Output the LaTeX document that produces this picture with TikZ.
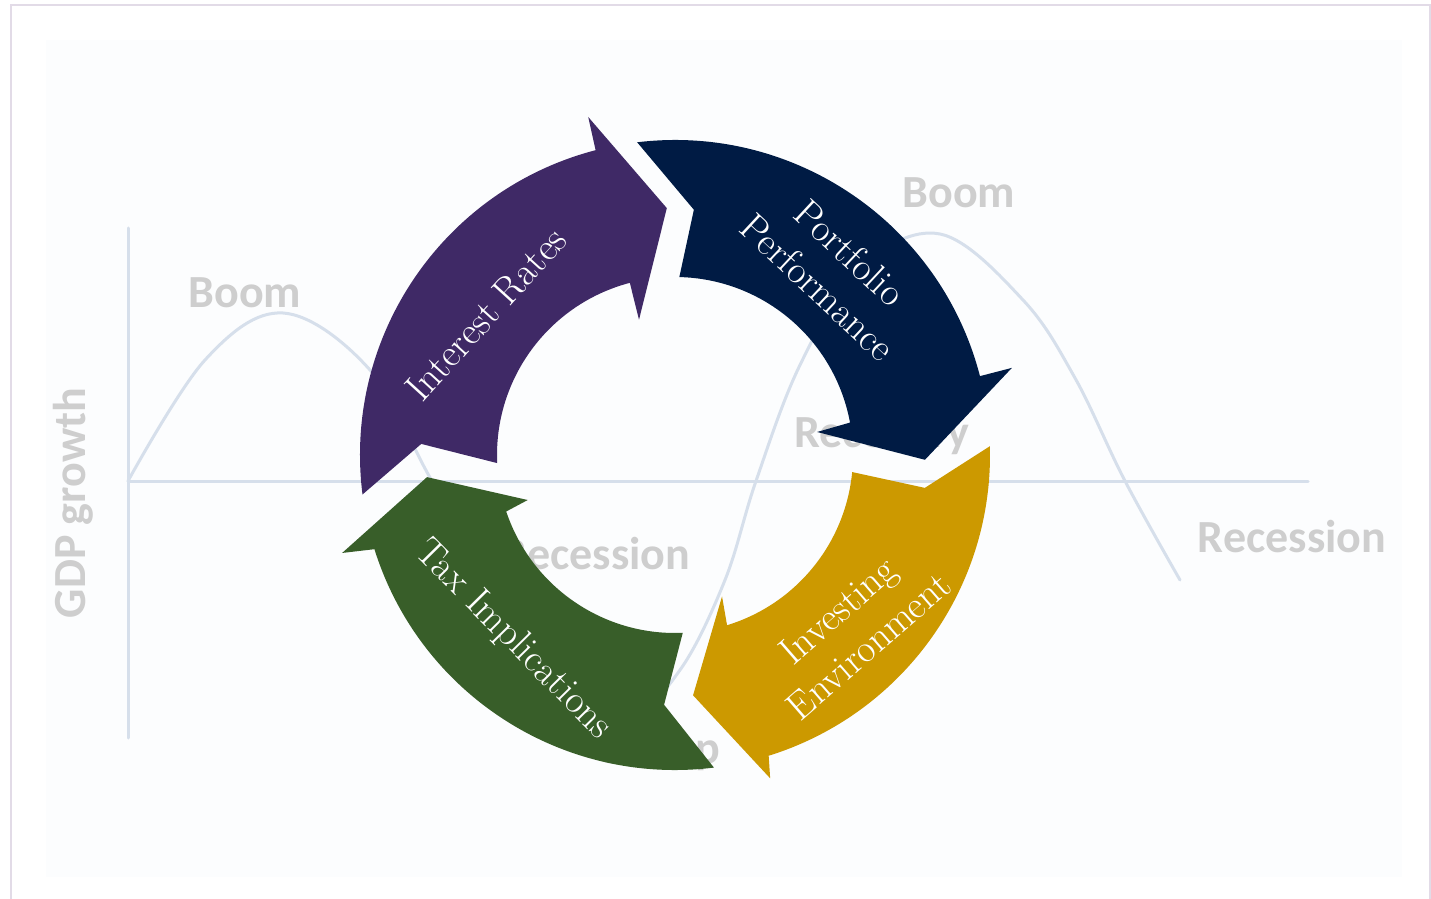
\documentclass[tikz,border=0pt]{standalone}
\usepackage{fontspec}
\newfontfamily\lblfont{Carlito}
\usetikzlibrary{calc}
\definecolor{purp}{RGB}{63,41,102}
\definecolor{navyc}{RGB}{0,27,68}
\definecolor{goldc}{RGB}{204,153,0}
\definecolor{greenc}{RGB}{56,94,41}
\definecolor{axisc}{RGB}{214,223,235}
\definecolor{lblc}{RGB}{206,206,206}
\definecolor{framec}{RGB}{226,219,231}
\definecolor{bgc}{RGB}{252,253,254}
\tikzset{
  chartline/.style={draw=axisc,line width=3pt,line cap=round},
  bglabel/.style={text=lblc,font=\lblfont\bfseries\fontsize{46}{50}\selectfont,anchor=base,inner sep=0pt},
  arrowtext/.style={text=white,font=\fontsize{39}{47}\selectfont,align=center,inner sep=0pt}
}
\begin{document}
\begin{tikzpicture}[x=1pt,y=1pt]
\useasboundingbox (0,0) rectangle (1431,898);
\fill[white] (0,0) rectangle (1431,898);
\fill[bgc] (46,21) rectangle (1402,858);
\draw[framec,line width=1.5pt] (11,-10) -- (11,893) -- (1430,893) -- (1430,-10);
% faded chart
\draw[chartline] (128,670) -- (128,160);
\draw[chartline] (128,417) -- (1308,417);
\draw[chartline] plot[smooth,tension=0.6] coordinates {(128,417) (205,538) (283,585) (370,528) (432,417) (500,308) (560,228) (630,186) (680,228) (725,318) (756,417) (800,533) (860,630) (940,664) (1023,598) (1075,520) (1125,417) (1180,318)};
\node[bglabel] (boomL) at (245,590) {Boom};
\node[bglabel] (boomR) at (959,690) {Boom};
\node[bglabel] (recM) at (596,329) {Recession};
\node[bglabel] (recR) at (1292,346) {Recession};
\node[bglabel] (recov) at (882,451) {Recovery};
\node[bglabel] (slump) at (660,135) {Slump};
\node[bglabel,rotate=90] (gdp) at (85,395) {GDP growth};
% cycle arrows
\coordinate (C) at (675,443);
\fill[purp] ($(C)+(187.2:315pt)$) arc[start angle=187.2,end angle=104.6,radius=315pt]
  -- ($(C)+(104.4:349pt)$) -- ($(C)+(91.9:247pt)$) -- ($(C)+(104.9:140pt)$)
  -- ($(C)+(104.7:178pt)$) arc[start angle=104.7,end angle=182.6,radius=178pt]
  -- ($(C)+(177.5:254pt)$) -- cycle;
\fill[navyc] ($(C)+(96.9:315pt)$) arc[start angle=96.9,end angle=14.5,radius=315pt]
  -- ($(C)+(14.5:348pt)$) -- ($(C)+(-1.1:250pt)$) -- ($(C)+(9.2:144pt)$)
  -- ($(C)+(10.5:178pt)$) arc[start angle=10.5,end angle=88.6,radius=178pt]
  -- ($(C)+(85.6:246pt)$) -- cycle;
\fill[goldc] ($(C)+(1.6:315pt)$) arc[start angle=1.6,end angle=-72.7,radius=315pt]
  -- ($(C)+(-73.6:337pt)$) -- ($(C)+(-85.7:241pt)$) -- ($(C)+(-71.6:149pt)$)
  -- ($(C)+(-73:178pt)$) arc[start angle=-73,end angle=-5.5,radius=178pt]
  -- ($(C)+(-7.5:252pt)$) -- cycle;
\fill[greenc] ($(C)+(277.1:315pt)$) arc[start angle=277.1,end angle=197.4,radius=315pt]
  -- ($(C)+(196.4:347pt)$) -- ($(C)+(185.1:249pt)$) -- ($(C)+(197:154pt)$)
  -- ($(C)+(198.5:178pt)$) arc[start angle=198.5,end angle=272.5,radius=178pt]
  -- ($(C)+(267.5:250pt)$) -- cycle;
% arrow labels
\node[arrowtext,rotate=47.7] (ir) at (486,584) {Interest Rates};
\node[arrowtext,rotate=-43] (pp) at (834,628) {Portfolio\\Performance};
\node[arrowtext,rotate=41] (ie) at (853,270) {Investing\\Environment};
\node[arrowtext,rotate=-45.4] (ti) at (513,258) {Tax Implications};
\end{tikzpicture}
\end{document}
